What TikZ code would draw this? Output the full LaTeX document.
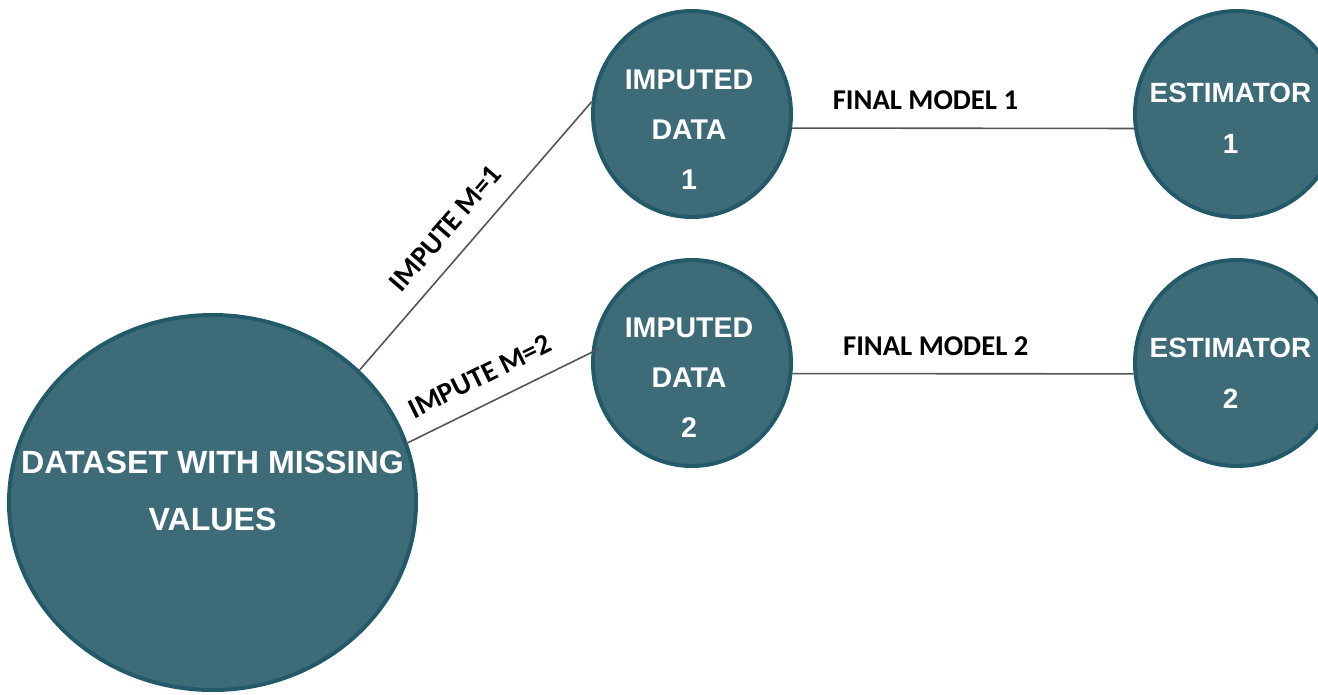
\documentclass[tikz,border=0pt]{standalone}
\usepackage{fontspec}
\setmainfont{Liberation Sans}
\newfontfamily\lblfont{Carlito}
\usetikzlibrary{shapes.geometric}

\newdimen\pxu \pxu=0.75pt
\definecolor{bubblefill}{HTML}{3E6B78}
\definecolor{bubbleedge}{HTML}{235A6A}
\definecolor{linkgray}{HTML}{555555}

\begin{document}
\begin{tikzpicture}[x=0.75pt, y=-0.75pt,
  bubble/.style={ellipse, fill=bubblefill, draw=bubbleedge, line width=3pt, inner sep=0pt},
  caption/.style={text=white, align=center, inner sep=0pt},
  link/.style={draw=linkgray, line width=1.2pt},
  linklabel/.style={sloped, above=13pt, inner sep=0pt, text=black, font=\lblfont\bfseries\fontsize{21.5}{25}\selectfont}
]
\useasboundingbox (0,0) rectangle (1318,694);
\clip (0,0) rectangle (1318,694);

% circles
\node[bubble, minimum width=407*\pxu, minimum height=375*\pxu] (B) at (212.5,502.5) {};
\node[bubble, minimum width=198*\pxu, minimum height=206*\pxu] (I1) at (692,114) {};
\node[bubble, minimum width=198*\pxu, minimum height=206*\pxu] (I2) at (692,363) {};
\node[bubble, minimum width=204*\pxu, minimum height=206*\pxu] (E1) at (1237,114) {};
\node[bubble, minimum width=204*\pxu, minimum height=206*\pxu] (E2) at (1237,363) {};

% circle captions
\node[caption, font=\bfseries\fontsize{24.1}{42.75}\selectfont] (Bt) at (212.5,490.7) {DATASET WITH MISSING\\VALUES};
\node[caption, font=\bfseries\fontsize{21.4}{37.5}\selectfont] (I1t) at (689,129.5) {IMPUTED\\DATA\\1};
\node[caption, font=\bfseries\fontsize{21.4}{37.5}\selectfont] (I2t) at (689,378) {IMPUTED\\DATA\\2};
\node[caption, font=\bfseries\fontsize{20.9}{38.5}\selectfont] (E1t) at (1230.5,118.5) {ESTIMATOR\\1};
\node[caption, font=\bfseries\fontsize{20.9}{38.5}\selectfont] (E2t) at (1230.5,373.5) {ESTIMATOR\\2};

% connectors
\draw[link] (B.42) -- node[linklabel, pos=0.46] (L1) {IMPUTE M=1} (I1.173);
\draw[link, shorten >=-8pt] (B.17) -- node[linklabel, pos=0.46] (L2) {IMPUTE M=2} (I2.174);
\draw[link] (I1.-8) -- node[linklabel, pos=0.39] (L3) {FINAL MODEL 1} (E1.-172);
\draw[link] (I2.-6) -- node[linklabel, pos=0.42] (L4) {FINAL MODEL 2} (E2.-174);
\end{tikzpicture}
\end{document}
